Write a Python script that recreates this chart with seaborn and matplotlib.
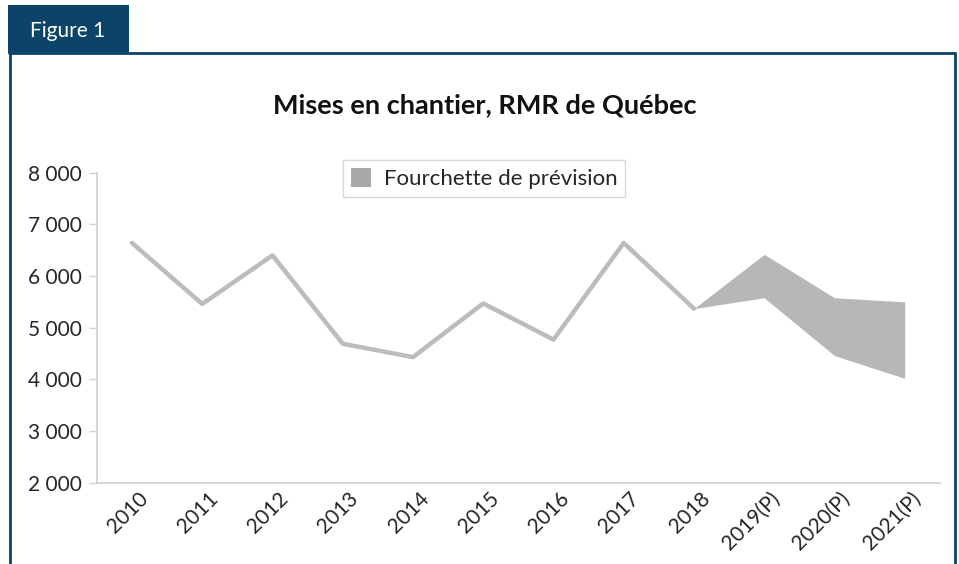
import pandas as pd
import matplotlib
matplotlib.use("Agg")
import matplotlib.pyplot as plt
import matplotlib.transforms as mtrans
import seaborn as sns
from matplotlib.patches import Patch, Rectangle
from matplotlib.lines import Line2D
from matplotlib.ticker import FuncFormatter, FixedLocator

# --- data ---------------------------------------------------------------------
years = ["2010", "2011", "2012", "2013", "2014", "2015", "2016", "2017", "2018",
         "2019(P)", "2020(P)", "2021(P)"]
starts = [6640, 5460, 6400, 4690, 4430, 5470, 4770, 6640, 5370]
band_years = ["2018", "2019(P)", "2020(P)", "2021(P)"]
band_low = [5370, 5580, 4460, 4020]
band_high = [5370, 6420, 5580, 5500]

navy = "#0B4468"
grey = "#BCBCBC"

df = pd.DataFrame({"pos": range(len(starts)), "val": starts})
band_pos = [years.index(y) for y in band_years]

sns.set_theme(style="white")
plt.rcParams["font.family"] = ["Lato", "DejaVu Sans"]

fig = plt.figure(figsize=(9.59, 5.64), dpi=100)
ax = fig.add_axes([0.101, 0.1441, 0.879, 0.5497])

sns.lineplot(data=df, x="pos", y="val", ax=ax, color=grey, linewidth=3.2)
ax.fill_between(band_pos, band_low, band_high, color="#B6B7B9", linewidth=0)

ax.set_xlim(-0.5, len(years) - 0.5)
ax.set_ylim(2000, 8000)
ax.set_xticks(range(len(years)))
ax.set_xticklabels(years, rotation=45, ha="right", rotation_mode="anchor", fontsize=15)
ax.xaxis.set_minor_locator(FixedLocator([i - 0.5 for i in range(len(years) + 1)]))
ax.tick_params(axis="x", which="major", length=0, pad=4)
ax.tick_params(axis="x", which="minor", length=6, color="#D0D0D0", width=1)
ax.set_yticks(range(2000, 8001, 1000))
ax.yaxis.set_major_formatter(FuncFormatter(lambda v, p: f"{int(v):,}".replace(",", " ")))
ax.tick_params(axis="y", length=6, color="#D0D0D0", width=1, labelsize=15, left=True, pad=5)
ax.set_xlabel("")
ax.set_ylabel("")
for s in ["top", "right"]:
    ax.spines[s].set_visible(False)
for s in ["left", "bottom"]:
    ax.spines[s].set_color("#D0D0D0")
    ax.spines[s].set_linewidth(1.2)

# shift the rotated year labels a little to the right
offset = mtrans.ScaledTranslation(4 / 72, 0, fig.dpi_scale_trans)
for lab in ax.get_xticklabels():
    lab.set_transform(lab.get_transform() + offset)

# legend
leg = fig.legend(handles=[Patch(facecolor="#A7A8AA", edgecolor="none", label="Fourchette de prévision")],
                 loc="center", bbox_to_anchor=(0.5047, 0.6835), frameon=True, fancybox=False,
                 fontsize=16, handlelength=0.9, handleheight=0.9, handletextpad=0.6, borderpad=0.35)
leg.get_frame().set_edgecolor("#CFCFCF")
leg.get_frame().set_linewidth(1)

# title
fig.text(0.505, 1 - 105 / 564, "Mises en chantier, RMR de Québec", ha="center", va="center",
         fontsize=19.5, fontweight="bold", color="#111111")

# frame and tab
W, H = 959, 564
fig.patches.append(Rectangle((8 / W, 1 - 53 / H), 121 / W, 48 / H, transform=fig.transFigure,
                             facecolor=navy, edgecolor="none"))
fig.text(68 / W, 1 - 31 / H, "Figure 1", color="white", fontsize=15, va="center", ha="center")
fig.lines.append(Line2D([10 / W, 10 / W], [0, 1 - 53 / H], transform=fig.transFigure, color=navy, lw=2))
fig.lines.append(Line2D([9 / W, 955 / W], [1 - 53 / H, 1 - 53 / H], transform=fig.transFigure, color=navy, lw=2))
fig.lines.append(Line2D([955 / W, 955 / W], [0, 1 - 53 / H], transform=fig.transFigure, color=navy, lw=2))

fig.savefig("out.png", dpi=100)
